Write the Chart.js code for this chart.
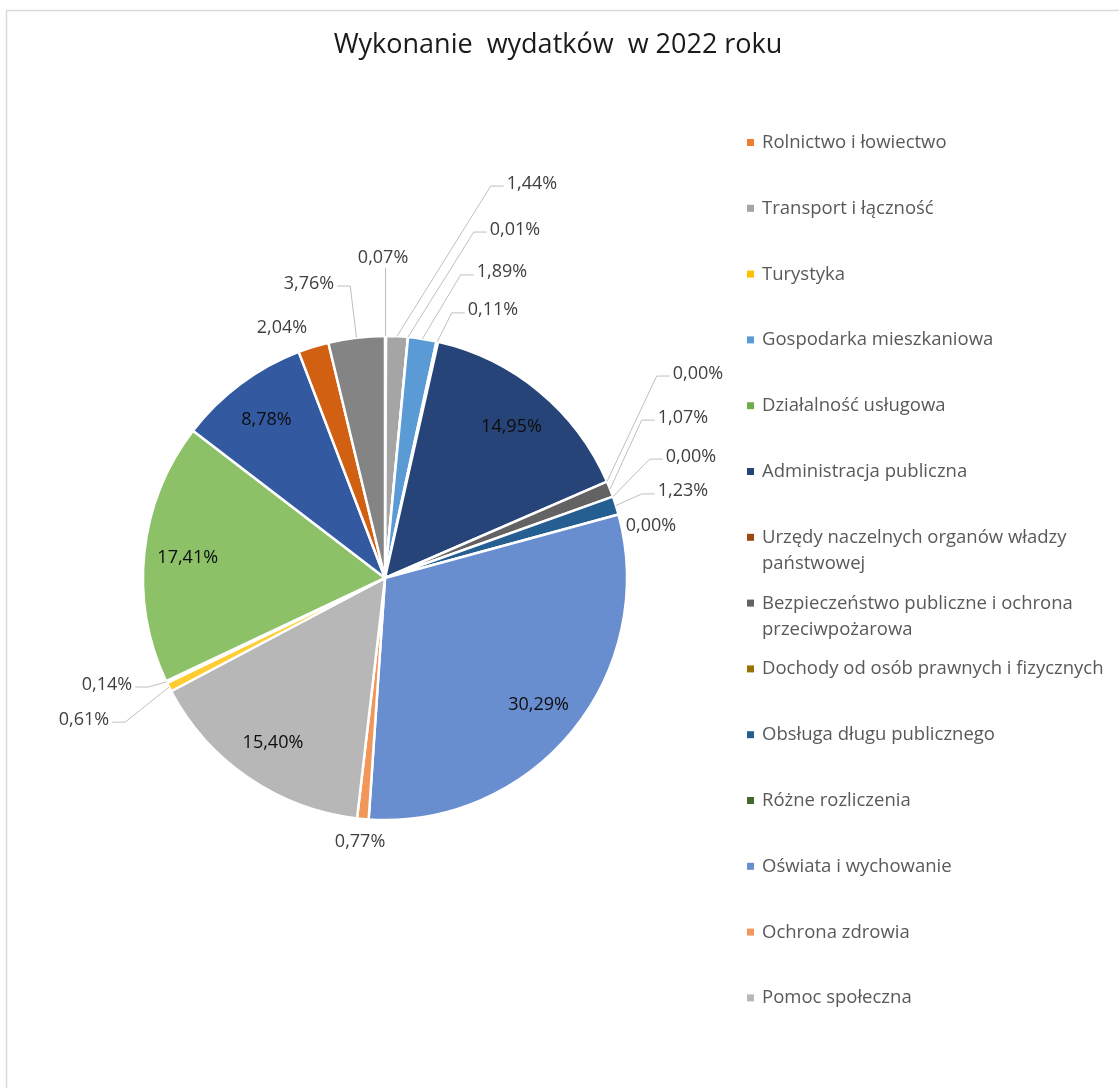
<!DOCTYPE html>
<html lang="pl">
<head>
<meta charset="utf-8">
<title>Wykonanie wydatków w 2022 roku</title>
<script src="https://cdn.jsdelivr.net/npm/chart.js@4.4.1/dist/chart.umd.min.js"></script>
<style>
  html, body { margin: 0; padding: 0; background: #fff; }
  #wrap { width: 1119px; height: 1088px; position: relative; }
</style>
</head>
<body>
<div id="wrap"><canvas id="pie"></canvas></div>
<script>
// categories in the order the slices go round, clockwise from 12 o'clock
const categories = [
    'Rolnictwo i łowiectwo',
    'Transport i łączność',
    'Turystyka',
    'Gospodarka mieszkaniowa',
    'Działalność usługowa',
    'Administracja publiczna',
    'Urzędy naczelnych organów władzy państwowej',
    'Bezpieczeństwo publiczne i ochrona przeciwpożarowa',
    'Dochody od osób prawnych i fizycznych',
    'Obsługa długu publicznego',
    'Różne rozliczenia',
    'Oświata i wychowanie',
    'Ochrona zdrowia',
    'Pomoc społeczna',
    'Pozostałe zadania w zakresie polityki społecznej',
    'Edukacyjna opieka wychowawcza',
    'Rodzina',
    'Gospodarka komunalna i ochrona środowiska',
    'Kultura i ochrona dziedzictwa narodowego',
    'Kultura fizyczna'
];
// share of total spending, %
const shares = [0.07, 1.44, 0.01, 1.89, 0.11, 14.95, 0.00, 1.07, 0.00, 1.23,
                0.00, 30.29, 0.77, 15.40, 0.61, 0.14, 17.41, 8.78, 2.04, 3.76];
const sliceColors = [
    '#ED7D31', '#A5A5A5', '#FFC000', '#5B9BD5', '#70AD47', '#264478', '#9E480E',
    '#636363', '#997300', '#255E91', '#43682B', '#698ED0', '#F1975A', '#B7B7B7',
    '#FFCD33', '#7CAFDD', '#8CC168', '#335AA1', '#D26012', '#848484'
];
// the legend box in the original only has room for the first 14 entries
const legendCount = 14;
// where outside labels sit, in pie radii from the centre (null = inside the slice)
const labelSpots = [
    [-0.008, -1.328], [0.607, -1.636], [0.537, -1.446], [0.483, -1.269], [0.446, -1.112],
    null, [1.293, -0.851], [1.231, -0.669], [1.264, -0.508], [1.231, -0.364],
    [1.099, -0.223], null, [-0.103, 1.083], null, [-1.244, 0.579],
    [-1.149, 0.434], null, null, [-0.426, -1.041], [-0.314, -1.223]
];

const FONT = '"Open Sans", "Liberation Sans", sans-serif';
const fmt = v => v.toFixed(2).replace('.', ',') + '%';

// word-wrap a legend entry to the available width
function wrapText(ctx, text, maxWidth) {
    const words = text.split(' ');
    const lines = [];
    let line = '';
    words.forEach(word => {
        const test = line ? line + ' ' + word : word;
        if (line && ctx.measureText(test).width > maxWidth) {
            lines.push(line);
            line = word;
        } else {
            line = test;
        }
    });
    if (line) lines.push(line);
    return lines;
}

const excelDecor = {
    id: 'excelDecor',
    beforeDraw(chart) {
        const ctx = chart.ctx;
        ctx.save();
        // chart frame, cropped at the right and bottom in the original
        ctx.strokeStyle = '#D9D9D9';
        ctx.lineWidth = 1.5;
        ctx.beginPath();
        ctx.moveTo(6.5, chart.height);
        ctx.lineTo(6.5, 10.5);
        ctx.lineTo(chart.width, 10.5);
        ctx.stroke();

        ctx.fillStyle = '#1A1A1A';
        ctx.font = '27px ' + FONT;
        ctx.textAlign = 'center';
        ctx.fillText('Wykonanie  wydatków  w 2022 roku', 558, 53);
        ctx.restore();
    },
    afterDatasetsDraw(chart) {
        const ctx = chart.ctx;
        const arcs = chart.getDatasetMeta(0).data;
        ctx.save();
        ctx.font = '18px ' + FONT;
        ctx.textAlign = 'center';
        ctx.strokeStyle = '#BFBFBF';
        ctx.lineWidth = 1;
        arcs.forEach((arc, i) => {
            const { x, y, startAngle, endAngle, outerRadius } =
                arc.getProps(['x', 'y', 'startAngle', 'endAngle', 'outerRadius'], true);
            const mid = (startAngle + endAngle) / 2;
            const text = fmt(shares[i]);
            const w = ctx.measureText(text).width;
            const spot = labelSpots[i];
            let tx, ty;
            if (!spot) {
                tx = x + Math.cos(mid) * outerRadius * 0.82;
                ty = y + Math.sin(mid) * outerRadius * 0.82;
                ctx.fillStyle = '#0D0D0D';
            } else {
                tx = x + spot[0] * outerRadius;
                ty = y + spot[1] * outerRadius;
                const px = x + Math.cos(mid) * outerRadius;
                const py = y + Math.sin(mid) * outerRadius;
                const gapX = Math.max(0, Math.abs(px - tx) - w / 2);
                const gapY = Math.max(0, Math.abs(py - ty) - 7);
                if (Math.hypot(gapX, gapY) > 25) {
                    ctx.beginPath();
                    if (gapX === 0) {
                        ctx.moveTo(px, ty + 11);
                        ctx.lineTo(px, py);
                    } else {
                        const side = px < tx ? -1 : 1;
                        ctx.moveTo(tx + side * (w / 2 + 3), ty + 4);
                        ctx.lineTo(tx + side * (w / 2 + 16), ty + 4);
                        ctx.lineTo(px, py);
                    }
                    ctx.stroke();
                }
                ctx.fillStyle = '#404040';
            }
            ctx.fillText(text, tx, ty + 6.5);
        });
        ctx.restore();
    },
    afterDraw(chart) {
        const ctx = chart.ctx;
        ctx.save();
        ctx.font = '18.5px ' + FONT;
        ctx.textAlign = 'left';
        for (let i = 0; i < legendCount; i++) {
            const base = 148 + 65.8 * i;
            ctx.fillStyle = sliceColors[i];
            ctx.fillRect(747, base - 9, 7, 7);
            ctx.fillStyle = '#595959';
            wrapText(ctx, categories[i], 350).forEach((line, k) => {
                ctx.fillText(line, 762, base + 26 * k);
            });
        }
        ctx.restore();
    }
};

new Chart(document.getElementById('pie'), {
    type: 'pie',
    data: {
        labels: categories,
        datasets: [{
            data: shares,
            backgroundColor: sliceColors,
            borderColor: '#FFFFFF',
            borderWidth: 2.5,
            radius: 242
        }]
    },
    options: {
        responsive: true,
        maintainAspectRatio: false,
        animation: false,
        events: [],
        layout: { padding: { left: 135, top: 328, right: 484, bottom: 260 } },
        plugins: {
            legend: { display: false },
            tooltip: { enabled: false },
            title: { display: false }
        }
    },
    plugins: [excelDecor]
});
</script>
</body>
</html>
